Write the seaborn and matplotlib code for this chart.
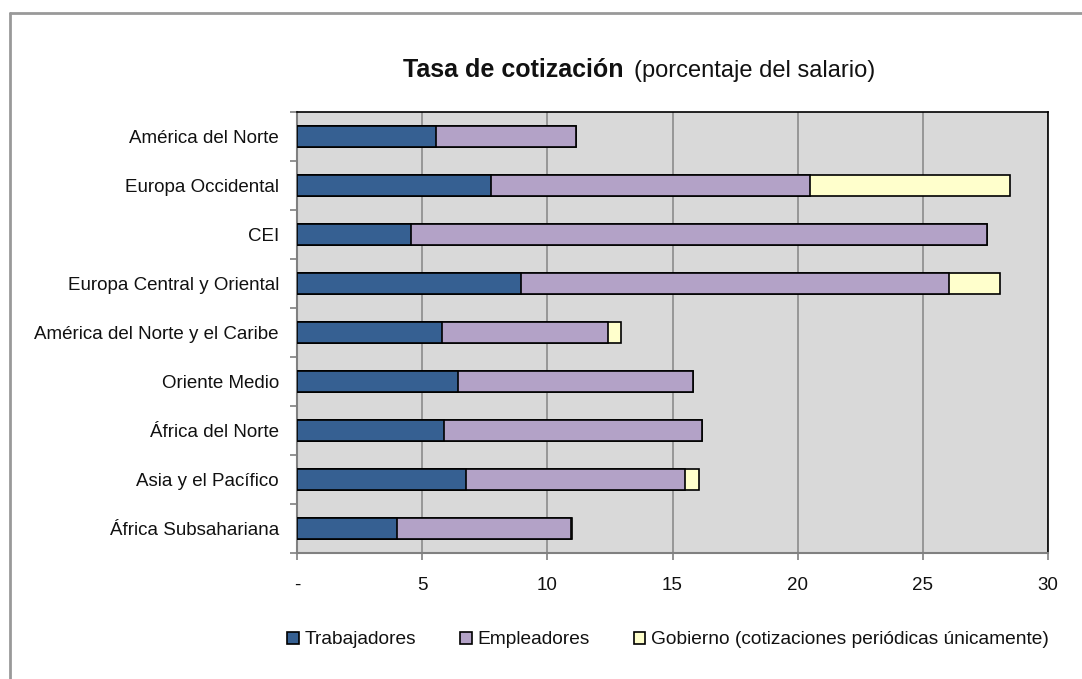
import numpy as np
import pandas as pd
import matplotlib
matplotlib.use('Agg')
import matplotlib.pyplot as plt
import seaborn as sns
from matplotlib.patches import Patch
from matplotlib.lines import Line2D

regiones = ['América del Norte', 'Europa Occidental', 'CEI',
            'Europa Central y Oriental', 'América del Norte y el Caribe',
            'Oriente Medio', 'África del Norte', 'Asia y el Pacífico',
            'África Subsahariana']
trabajadores = [5.57, 7.75, 4.57, 8.95, 5.81, 6.45, 5.88, 6.74, 4.00]
empleadores = [5.56, 12.74, 23.01, 17.11, 6.61, 9.35, 10.29, 8.74, 6.93]
gobierno = [0.0, 8.01, 0.0, 2.01, 0.53, 0.0, 0.0, 0.56, 0.07]

series = ['Trabajadores', 'Empleadores',
          'Gobierno (cotizaciones periódicas únicamente)']
colores = ['#366092', '#b3a2c7', '#ffffcc']
xticks = [0, 5, 10, 15, 20, 25, 30]
xlabels = ['-', '5', '10', '15', '20', '25', '30']

df = pd.DataFrame({'region': regiones, 'trab': trabajadores,
                   'emp': empleadores, 'gob': gobierno})
df['c1'] = df['trab']
df['c2'] = df['trab'] + df['emp']
df['c3'] = df['c2'] + df['gob']

sns.set_style('white')
plt.rcParams['font.family'] = ['Liberation Sans', 'DejaVu Sans']

W, H = 1082, 679
fig = plt.figure(figsize=(W / 100, H / 100), dpi=100)
ax = fig.add_axes([297 / W, 126 / H, 751 / W, 441 / H])
ax.set_facecolor('#d9d9d9')

# stacked by overdrawing cumulative totals
for col, color in zip(['c3', 'c2', 'c1'], colores[::-1]):
    sns.barplot(data=df, y='region', x=col, orient='h', color=color,
                width=0.41, edgecolor='black', linewidth=1.2,
                saturation=1, ax=ax, zorder=3)

ax.set_xlim(0, 30)
ax.set_xticks(xticks)
ax.set_xticklabels(xlabels, fontsize=13.5)
ax.set_xlabel('')
ax.set_ylabel('')
ax.set_yticks(range(len(regiones)))
ax.set_yticklabels(regiones, fontsize=13.5, color='#111111')
ax.set_yticks(np.arange(-0.5, len(regiones)), minor=True)
ax.tick_params(axis='y', which='major', length=0, pad=13)
ax.tick_params(axis='y', which='minor', length=5, color='#808080', width=1.2, left=True)
ax.tick_params(axis='x', length=5, color='#808080', width=1.2, bottom=True, pad=12,
               labelcolor='#111111')
ax.grid(axis='x', color='#8c8c8c', linewidth=1.2, zorder=0)
ax.set_axisbelow(True)
for s in ['left', 'bottom']:
    ax.spines[s].set_color('#808080')
    ax.spines[s].set_linewidth(1.5)
for s in ['top', 'right']:
    ax.spines[s].set_color('black')
    ax.spines[s].set_linewidth(1.2)

# title: bold part + regular part on one baseline
ybase = 1 - 77 / H
t1 = fig.text(403 / W, ybase, 'Tasa de cotización', fontsize=18,
              fontweight='bold', ha='left', va='baseline', color='#111111')
fig.canvas.draw()
x_end = t1.get_window_extent().x1
fig.text((x_end + 11) / W, ybase, '(porcentaje del salario)', fontsize=17,
         ha='left', va='baseline', color='#111111')

handles = [Patch(facecolor=c, edgecolor='black', linewidth=1.2) for c in colores]
fig.legend(handles, series, loc='center', bbox_to_anchor=(668 / W, 1 - 640 / H),
           ncol=3, frameon=False, fontsize=13.8, handlelength=0.6,
           handleheight=0.6, handletextpad=0.3, columnspacing=2.3,
           labelcolor='#111111')

fig.add_artist(Line2D([10 / W, 10 / W], [0, 1 - 13 / H],
                      color='#999999', linewidth=2, transform=fig.transFigure))
fig.add_artist(Line2D([10 / W, 1], [1 - 13 / H, 1 - 13 / H],
                      color='#999999', linewidth=2, transform=fig.transFigure))

fig.savefig('out.png', dpi=100)
